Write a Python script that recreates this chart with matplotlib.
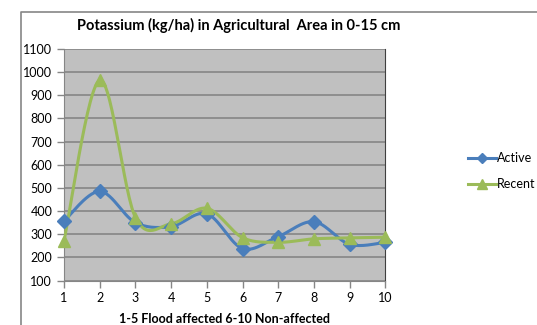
import numpy as np
import matplotlib
matplotlib.use("Agg")
import matplotlib.pyplot as plt
from matplotlib.lines import Line2D

plt.rcParams["font.family"] = ["Lato", "DejaVu Sans"]

sites = [1, 2, 3, 4, 5, 6, 7, 8, 9, 10]
active = [357, 485, 350, 333, 388, 238, 290, 354, 256, 265]
recent = [272, 965, 372, 345, 412, 285, 265, 280, 284, 287]

blue = "#4A7EBB"
green = "#9BBB59"


def smooth(xs, ys, n=30):
    # Excel style smoothing: bezier through points, catmull-rom tangents
    xs = np.asarray(xs, float)
    ys = np.asarray(ys, float)
    px = np.concatenate([[xs[0]], xs, [xs[-1]]])
    py = np.concatenate([[ys[0]], ys, [ys[-1]]])
    out_x, out_y = [], []
    t = np.linspace(0, 1, n)
    for i in range(1, len(px) - 2):
        p0 = np.array([px[i], py[i]])
        p3 = np.array([px[i + 1], py[i + 1]])
        p1 = p0 + (np.array([px[i + 1], py[i + 1]]) - np.array([px[i - 1], py[i - 1]])) / 6
        p2 = p3 - (np.array([px[i + 2], py[i + 2]]) - np.array([px[i], py[i]])) / 6
        b = ((1 - t) ** 3)[:, None] * p0 + (3 * (1 - t) ** 2 * t)[:, None] * p1 \
            + (3 * (1 - t) * t ** 2)[:, None] * p2 + (t ** 3)[:, None] * p3
        out_x.extend(b[:, 0])
        out_y.extend(b[:, 1])
    return out_x, out_y


fig = plt.figure(figsize=(5.37, 3.25), dpi=100)
ax = fig.add_axes([64 / 537, 1 - 280.5 / 325, (385.5 - 64) / 537, (280.5 - 49) / 325])
ax.set_facecolor("#C0C0C0")

sx, sy = smooth(sites, active)
ax.plot(sx, sy, color=blue, lw=2.2, solid_capstyle="round", zorder=3)
ax.plot(sites, active, ls="none", marker="D", ms=7, color=blue, zorder=4, clip_on=False)
sx, sy = smooth(sites, recent)
ax.plot(sx, sy, color=green, lw=2.2, solid_capstyle="round", zorder=3)
ax.plot(sites, recent, ls="none", marker="^", ms=8.5, color=green, zorder=4, clip_on=False)

ax.set_xlim(1, 10)
ax.set_ylim(100, 1100)
ax.set_xticks(sites)
ax.set_yticks(np.arange(100, 1101, 100))
ax.yaxis.grid(True, color="#868686", lw=1.2)
ax.set_axisbelow(True)
ax.tick_params(axis="both", labelsize=9, length=5, width=1, color="#868686", labelcolor="#000000")
for side in ["left", "bottom"]:
    ax.spines[side].set_color("#868686")
ax.spines["right"].set_color("#404040")
ax.spines["top"].set_visible(False)

ax.set_xlabel("1-5 Flood affected 6-10 Non-affected", fontsize=9, fontweight="bold", labelpad=6)
fig.text(239 / 537, 1 - 25 / 325, "Potassium (kg/ha) in Agricultural  Area in 0-15 cm",
         ha="center", va="center", fontsize=10.5, fontweight="bold")

handles = [
    Line2D([], [], color=blue, lw=2.2, marker="D", ms=5),
    Line2D([], [], color=green, lw=2.2, marker="^", ms=6.5),
]
fig.legend(handles, ["Active", "Recent"], loc="center left",
           bbox_to_anchor=(463 / 537, 1 - 171 / 325), frameon=False, fontsize=9,
           handlelength=2.2, handletextpad=0.1, labelspacing=1.1, borderaxespad=0)

# chart border
fig.add_artist(Line2D([21 / 537, 21 / 537, 1], [0, 1 - 12 / 325, 1 - 12 / 325],
                      color="#868686", lw=1.2, transform=fig.transFigure))

fig.savefig("out.png", dpi=100)
